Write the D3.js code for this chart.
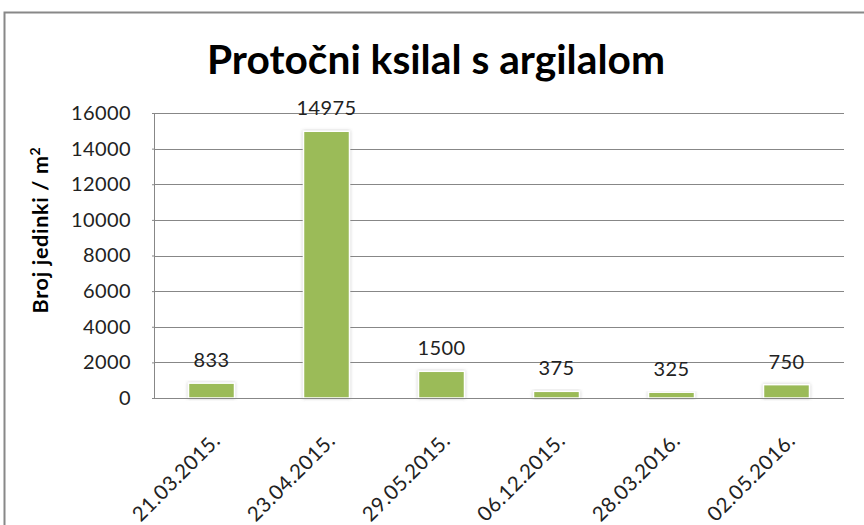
<!DOCTYPE html>
<html>
<head>
<meta charset="utf-8">
<script src="https://cdn.jsdelivr.net/npm/d3@7"></script>
<style>
  html, body { margin: 0; padding: 0; background: #fff; }
  svg { display: block; }
  text { font-family: Lato, "Open Sans", sans-serif; }
</style>
</head>
<body>
<svg id="chart" width="864" height="525"></svg>
<script>
const categories = ["21.03.2015.", "23.04.2015.", "29.05.2015.", "06.12.2015.", "28.03.2016.", "02.05.2016."];
const values = [833, 14975, 1500, 375, 325, 750];
const yTicks = [0, 2000, 4000, 6000, 8000, 10000, 12000, 14000, 16000];
const title = "Protočni ksilal s argilalom";
const yTitle = "Broj jedinki / m";

const svg = d3.select("#chart");
const plot = { left: 154, right: 844, top: 113, bottom: 398 };

// outer chart border (cropped at right/bottom)
svg.append("rect")
  .attr("x", 4.5).attr("y", 12.5)
  .attr("width", 900).attr("height", 600)
  .attr("fill", "#fff").attr("stroke", "#888").attr("stroke-width", 2);

const defs = svg.append("defs");
const f = defs.append("filter").attr("id", "glow")
  .attr("x", "-20%").attr("y", "-20%").attr("width", "140%").attr("height", "140%");
f.append("feDropShadow").attr("dx", 0).attr("dy", 0)
  .attr("stdDeviation", 1.6).attr("flood-color", "#777").attr("flood-opacity", 0.45);

const x = d3.scaleBand().domain(categories)
  .range([plot.left, plot.right]).paddingInner(0.6).paddingOuter(0.3);
const y = d3.scaleLinear().domain([0, 16000]).range([plot.bottom, plot.top]);

// gridlines
svg.append("g")
  .attr("transform", `translate(${plot.left},0)`)
  .call(d3.axisLeft(y).tickValues(yTicks).tickSize(-(plot.right - plot.left)).tickFormat(""))
  .call(g => g.select(".domain").remove())
  .call(g => g.selectAll("line").attr("stroke", "#878787").attr("stroke-width", 1).attr("shape-rendering", "crispEdges"));

// y axis line + tick labels
const yAxis = svg.append("g")
  .attr("transform", `translate(${plot.left},0)`)
  .call(d3.axisLeft(y).tickValues(yTicks).tickSize(2).tickPadding(21).tickFormat(d3.format("d")));
yAxis.select(".domain").attr("stroke", "#878787").attr("shape-rendering", "crispEdges");
yAxis.selectAll("line").attr("stroke", "#878787");
yAxis.selectAll("text").attr("font-size", 20).attr("fill", "#222")
  .attr("letter-spacing", 0.4)
  .attr("font-family", "Lato, sans-serif");

// bars
svg.append("g").selectAll("rect").data(values).join("rect")
  .attr("x", (d, i) => x(categories[i]))
  .attr("y", d => y(d))
  .attr("width", x.bandwidth())
  .attr("height", d => y(0) - y(d))
  .attr("fill", "#9bbb59")
  .attr("stroke", "#fff").attr("stroke-width", 1.5)
  .attr("filter", "url(#glow)");

// x axis baseline
svg.append("line")
  .attr("x1", plot.left).attr("x2", plot.right)
  .attr("y1", y(0) + 0.5).attr("y2", y(0) + 0.5)
  .attr("stroke", "#878787");

// data labels
svg.append("g").selectAll("text").data(values).join("text")
  .attr("x", (d, i) => x(categories[i]) + x.bandwidth() / 2)
  .attr("y", d => y(d) - 16)
  .attr("text-anchor", "middle")
  .attr("font-size", 20).attr("letter-spacing", 0.4).attr("fill", "#222")
  .text(d => d);

// x labels (rotated)
const xAxis = svg.append("g")
  .attr("transform", `translate(0,${plot.bottom})`)
  .call(d3.axisBottom(x).tickSize(0).tickPadding(0));
xAxis.select(".domain").remove();
xAxis.selectAll("text")
  .attr("font-size", 20.5).attr("fill", "#222")
  .attr("letter-spacing", 0.4)
  .attr("font-family", "Lato, sans-serif")
  .attr("text-anchor", "end")
  .attr("dy", "0")
  .attr("transform", "translate(10,44) rotate(-45)");

// title
svg.append("text")
  .attr("x", 436).attr("y", 74)
  .attr("text-anchor", "middle")
  .attr("font-size", 40).attr("font-weight", "bold").attr("fill", "#000")
  .attr("textLength", 458).attr("lengthAdjust", "spacingAndGlyphs")
  .text(title);

// y title
const yt = svg.append("text")
  .attr("transform", "translate(48,230) rotate(-90)")
  .attr("text-anchor", "middle")
  .attr("font-size", 21.5).attr("font-weight", "bold").attr("fill", "#000")
  .attr("letter-spacing", 0.7);
yt.append("tspan").text(yTitle);
yt.append("tspan").attr("font-size", 14).attr("dy", "-0.6em").text("2");
</script>
</body>
</html>
